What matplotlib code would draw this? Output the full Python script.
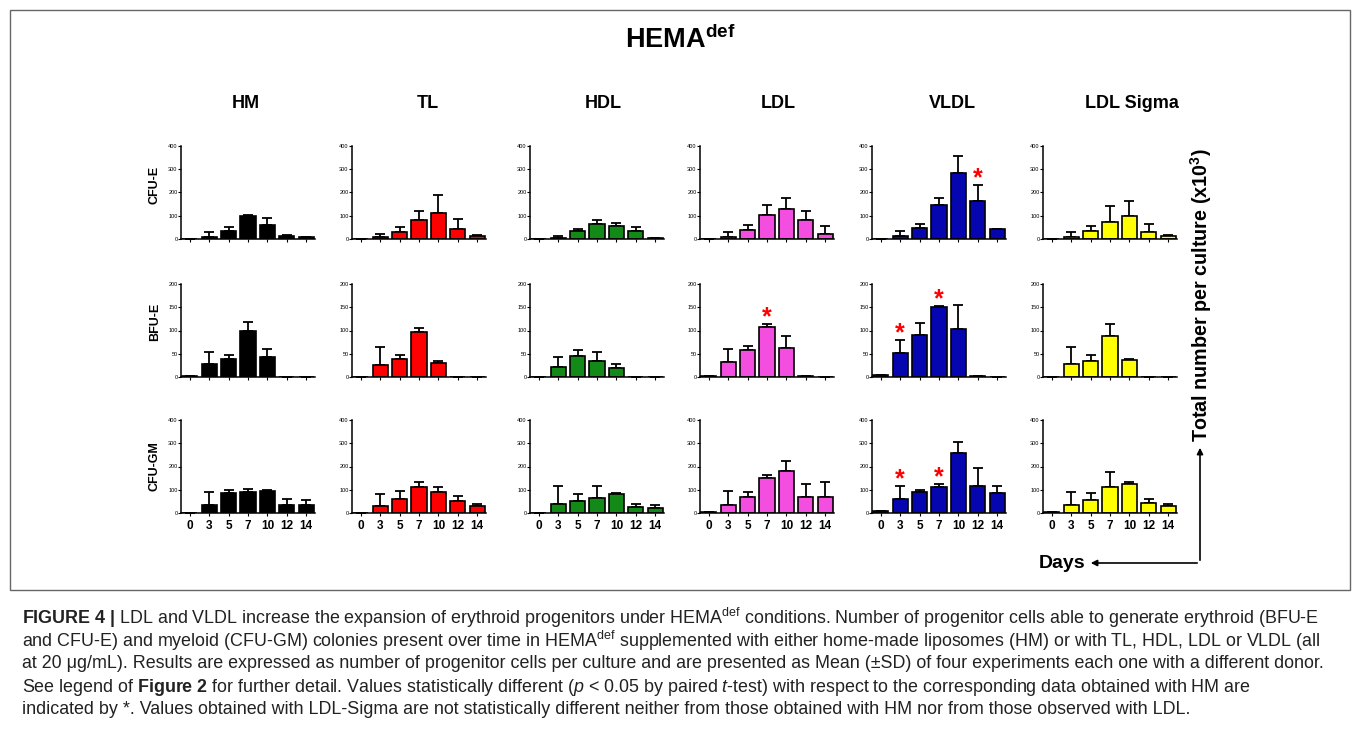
import matplotlib
matplotlib.use("Agg")
import matplotlib.pyplot as plt
from matplotlib.patches import Rectangle, FancyArrowPatch
import numpy as np

plt.rcParams['font.family'] = ['Liberation Sans', 'DejaVu Sans']
plt.rcParams['mathtext.fontset'] = 'custom'
plt.rcParams['mathtext.rm'] = 'Liberation Sans'
plt.rcParams['mathtext.bf'] = 'Liberation Sans:bold'
plt.rcParams['mathtext.it'] = 'Liberation Sans:italic'

days = ["0", "3", "5", "7", "10", "12", "14"]
conditions = ["HM", "TL", "HDL", "LDL", "VLDL", "LDL Sigma"]
bar_colors = ["#000000", "#ff0000", "#138a17", "#f44ee0", "#0606b0", "#ffff00"]
rows = ["CFU-E", "BFU-E", "CFU-GM"]
row_ymax = [400, 200, 400]

# mean values (x10^3) per condition, one list per progenitor type
cfu_e_mean = [
    [2, 10, 35, 100, 60, 15, 8],
    [1, 8, 30, 80, 110, 45, 12],
    [1, 5, 35, 65, 55, 35, 3],
    [0, 10, 40, 105, 130, 80, 20],
    [2, 15, 47, 145, 283, 162, 42],
    [0, 8, 35, 75, 97, 32, 12],
]
cfu_e_sd = [
    [0, 20, 15, 5, 32, 3, 2],
    [0, 12, 22, 40, 80, 40, 6],
    [0, 10, 10, 15, 15, 15, 0],
    [0, 20, 20, 40, 48, 42, 35],
    [0, 20, 18, 30, 72, 70, 3],
    [0, 20, 22, 65, 68, 33, 6],
]
bfu_e_mean = [
    [2, 28, 39, 100, 42, 1, 0],
    [1, 26, 39, 96, 30, 1, 0],
    [1, 22, 45, 35, 20, 1, 1],
    [2, 32, 57, 107, 63, 2, 0],
    [4, 52, 91, 151, 103, 3, 1],
    [1, 29, 34, 88, 37, 1, 0],
]
bfu_e_sd = [
    [0, 26, 8, 18, 19, 0, 0],
    [0, 39, 8, 10, 4, 0, 0],
    [0, 22, 12, 18, 7, 0, 0],
    [0, 29, 10, 7, 26, 0, 0],
    [0, 28, 25, 2, 51, 0, 0],
    [0, 36, 13, 27, 2, 0, 0],
]
cfu_gm_mean = [
    [2, 35, 85, 90, 95, 35, 35],
    [2, 30, 60, 110, 90, 50, 30],
    [2, 40, 50, 65, 80, 25, 20],
    [5, 35, 70, 150, 180, 70, 70],
    [8, 60, 90, 110, 260, 115, 85],
    [3, 35, 55, 110, 125, 45, 30],
]
cfu_gm_sd = [
    [0, 55, 15, 12, 5, 25, 20],
    [0, 50, 35, 25, 20, 25, 10],
    [0, 75, 30, 50, 5, 15, 15],
    [0, 60, 20, 15, 45, 55, 65],
    [0, 55, 10, 15, 45, 80, 30],
    [0, 55, 30, 65, 10, 15, 10],
]
# (row, condition, day index) marked with * (p < 0.05 vs HM)
significant = [(0, 4, 5), (1, 3, 3), (1, 4, 1), (1, 4, 3), (2, 4, 1), (2, 4, 3)]

means = [cfu_e_mean, bfu_e_mean, cfu_gm_mean]
sds = [cfu_e_sd, bfu_e_sd, cfu_gm_sd]

W, H = 1360, 739
fig = plt.figure(figsize=(W / 100, H / 100), dpi=100)

# overlay in pixel coordinates for the frame, titles and caption
ov = fig.add_axes([0, 0, 1, 1])
ov.set_xlim(0, W)
ov.set_ylim(H, 0)
ov.axis("off")
ov.add_patch(Rectangle((10, 10), 1340, 580, fill=False, edgecolor="#666666", lw=1))
ov.text(680, 40, r"$\mathbf{HEMA}^{\mathbf{def}}$", ha="center", va="center", fontsize=19.5)

col_left = [181, 352, 530, 700, 872, 1043]
col_width = 134
row_top = [146, 284, 420]
row_height = 93
title_x = [246, 428, 603, 778, 952, 1132]
for cx, name in zip(title_x, conditions):
    ov.text(cx, 103, name, ha="center", va="center", fontsize=13, fontweight="bold")

row_label_y = [185, 322, 466]
for ly, name in zip(row_label_y, rows):
    ov.text(155, ly, name, ha="center", va="center", rotation=90, fontsize=9, fontweight="bold")

ov.text(1201, 295, "Total number per culture (x10$^{\\mathbf{3}}$)", ha="center", va="center",
        rotation=90, fontsize=14.2, fontweight="bold")
ov.text(1062, 563, "Days", ha="center", va="center", fontsize=14, fontweight="bold")
ov.add_patch(FancyArrowPatch((1200, 563), (1200, 445), arrowstyle="-|>", mutation_scale=9,
                             color="black", lw=1.2))
ov.add_patch(FancyArrowPatch((1200, 563), (1088, 563), arrowstyle="-|>", mutation_scale=9,
                             color="black", lw=1.2))

caption = [
    r"$\mathbf{FIGURE\ 4\ |}$ LDL and VLDL increase the expansion of erythroid progenitors under HEMA$^{\rm def}$ conditions. Number of progenitor cells able to generate erythroid (BFU-E",
    r"and CFU-E) and myeloid (CFU-GM) colonies present over time in HEMA$^{\rm def}$ supplemented with either home-made liposomes (HM) or with TL, HDL, LDL or VLDL (all",
    "at 20 \u03bcg/mL). Results are expressed as number of progenitor cells per culture and are presented as Mean (\u00b1SD) of four experiments each one with a different donor.",
    r"See legend of $\mathbf{Figure\ 2}$ for further detail. Values statistically different ($\mathit{p}$ < 0.05 by paired $\mathit{t}$-test) with respect to the corresponding data obtained with HM are",
    "indicated by *. Values obtained with LDL-Sigma are not statistically different neither from those obtained with HM nor from those observed with LDL.",
]
cap_y = [618, 641, 664, 687, 710]
for cy, line in zip(cap_y, caption):
    ov.text(22, cy, line, ha="left", va="center", fontsize=12.9, color="#222222")

x = np.arange(len(days))
for r in range(3):
    for c in range(6):
        left = col_left[c] / W
        bottom = 1 - (row_top[r] + row_height) / H
        ax = fig.add_axes([left, bottom, col_width / W, row_height / H])
        m = np.array(means[r][c])
        s = np.array(sds[r][c])
        ax.errorbar(x, m, yerr=[np.zeros_like(s), s], fmt="none", ecolor="black",
                    elinewidth=1.3, capsize=3.5, capthick=1.3, zorder=1)
        ax.bar(x, m, width=0.78, color=bar_colors[c], edgecolor="black", linewidth=1.2, zorder=2)
        ax.set_xlim(-0.45, 6.45)
        ax.set_ylim(0, row_ymax[r])
        ax.set_yticks(np.linspace(0, row_ymax[r], 5))
        ax.set_xticks(x)
        for sp in ["top", "right"]:
            ax.spines[sp].set_visible(False)
        for sp in ["left", "bottom"]:
            ax.spines[sp].set_linewidth(1.1)
        ax.tick_params(axis="y", labelsize=4, length=2, width=0.8, pad=0.5)
        ax.tick_params(axis="x", length=2, width=0.8, pad=3, labelsize=8.5)
        if r == 2:
            ax.set_xticklabels(days, fontweight="bold")
        else:
            ax.set_xticklabels([])
        ax.patch.set_alpha(0)
        for (rr, cc, d) in significant:
            if rr == r and cc == c:
                ax.text(d, m[d] + s[d] + 0.07 * row_ymax[r], "*", color="red", ha="center",
                        va="center", fontsize=18, fontweight="bold")

fig.savefig("out.png", dpi=100)
